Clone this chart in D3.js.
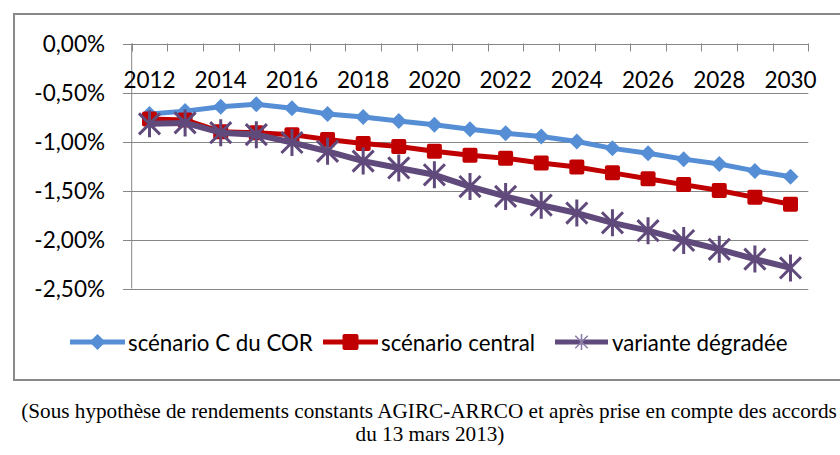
<!DOCTYPE html>
<html><head><meta charset="utf-8">
<script src="https://cdn.jsdelivr.net/npm/d3@7"></script>
<style>body{margin:0;background:#fff}svg{display:block}</style>
</head><body>
<script>
const years = [2012,2013,2014,2015,2016,2017,2018,2019,2020,2021,2022,2023,2024,2025,2026,2027,2028,2029,2030];
const seriesNames = ["scénario C du COR","scénario central","variante dégradée"];
const scenarioCOR = [-0.72,-0.69,-0.645,-0.62,-0.66,-0.72,-0.75,-0.79,-0.83,-0.875,-0.915,-0.95,-1.00,-1.07,-1.12,-1.18,-1.23,-1.30,-1.36];
const scenarioCentral = [-0.77,-0.78,-0.90,-0.91,-0.93,-0.98,-1.02,-1.05,-1.10,-1.14,-1.17,-1.22,-1.26,-1.32,-1.38,-1.44,-1.50,-1.57,-1.64];
const varianteDegradee = [-0.82,-0.81,-0.91,-0.93,-1.01,-1.10,-1.20,-1.27,-1.34,-1.46,-1.56,-1.65,-1.73,-1.83,-1.91,-2.01,-2.10,-2.20,-2.29];
const yTicks = [0,-0.5,-1,-1.5,-2,-2.5];
const xLabels = [2012,2014,2016,2018,2020,2022,2024,2026,2028,2030];
const captionLines = ["(Sous hypothèse de rendements constants AGIRC-ARRCO et après prise en compte des accords","du 13 mars 2013)"];

const W=840,H=455;
const svg=d3.select("body").append("svg").attr("width",W).attr("height",H);
const font="Lato, 'Open Sans', sans-serif";

// chart frame
svg.append("rect").attr("x",14).attr("y",14).attr("width",840).attr("height",366)
  .attr("fill","#fff").attr("stroke","#898989").attr("stroke-width",2);

const x=d3.scaleBand().domain(years).range([131.7,808.3]).padding(0);
const y=d3.scaleLinear().domain([-2.5,0]).range([288.5,43.5]);
const fmt=v=>(v===0?"0,00%":d3.format(".2f")(v).replace("−","-").replace(".",",")+"%");

// gridlines + y labels
const g=svg.append("g");
yTicks.forEach(t=>{
  g.append("line").attr("x1",123).attr("x2",808.3).attr("y1",Math.round(y(t))+0.5).attr("y2",Math.round(y(t))+0.5)
   .attr("stroke","#868686").attr("stroke-width",1);
  g.append("text").attr("x",105).attr("y",y(t)).attr("text-anchor","end").attr("dominant-baseline","central")
   .attr("font-family",font).attr("font-size",22.5).attr("fill","#000").text(fmt(t));
});
// y axis line
g.append("line").attr("x1",131.7).attr("x2",131.7).attr("y1",y(0)).attr("y2",y(-2.5)).attr("stroke","#868686");
// x category ticks
years.concat([null]).forEach(yr=>{
  const xp = yr===null ? x.range()[1] : x(yr);
  g.append("line").attr("x1",Math.round(xp)+0.5).attr("x2",Math.round(xp)+0.5).attr("y1",y(0)).attr("y2",y(0)+8)
   .attr("stroke","#868686");
});
xLabels.forEach(yr=>{
  g.append("text").attr("x",x(yr)+x.bandwidth()/2).attr("y",79).attr("text-anchor","middle").attr("dominant-baseline","central")
   .attr("font-family",font).attr("font-size",22.5).attr("fill","#000").text(yr);
});

const line=d3.line().x((d,i)=>x(years[i])+x.bandwidth()/2).y(d=>y(d));
const cx=i=>x(years[i])+x.bandwidth()/2;

function diamond(sel,px,py,s,col){
  sel.append("path").attr("d",`M${px},${py-s}L${px+s},${py}L${px},${py+s}L${px-s},${py}Z`).attr("fill",col);
}
function square(sel,px,py,s,col){
  sel.append("rect").attr("x",px-s).attr("y",py-s).attr("width",2*s).attr("height",2*s).attr("rx",2).attr("fill",col);
}
function star(sel,px,py,s,col,w){
  const d=s*0.78;
  sel.append("path").attr("d",`M${px},${py-s}L${px},${py+s}M${px-d},${py-d}L${px+d},${py+d}M${px-d},${py+d}L${px+d},${py-d}`)
   .attr("stroke",col).attr("stroke-width",w).attr("fill","none");
}

const blue="#558ED5", red="#C00000", purple="#604A7B";
svg.append("path").datum(scenarioCOR).attr("d",line).attr("fill","none").attr("stroke",blue).attr("stroke-width",5).attr("stroke-linejoin","round");
scenarioCOR.forEach((v,i)=>diamond(svg,cx(i),y(v),8,blue));
svg.append("path").datum(scenarioCentral).attr("d",line).attr("fill","none").attr("stroke",red).attr("stroke-width",5).attr("stroke-linejoin","round");
scenarioCentral.forEach((v,i)=>square(svg,cx(i),y(v),7.5,red));
svg.append("path").datum(varianteDegradee).attr("d",line).attr("fill","none").attr("stroke",purple).attr("stroke-width",6).attr("stroke-linejoin","round");
varianteDegradee.forEach((v,i)=>star(svg,cx(i),y(v),13.5,purple,3));

// legend
const ly=342, lfs=22.3;
const leg=svg.append("g");
leg.append("line").attr("x1",70).attr("x2",125).attr("y1",ly).attr("y2",ly).attr("stroke",blue).attr("stroke-width",5);
diamond(leg,97.5,ly,8,blue);
leg.append("text").attr("x",128).attr("y",ly).attr("dominant-baseline","central").attr("font-family",font).attr("font-size",lfs).text(seriesNames[0]);
leg.append("line").attr("x1",323).attr("x2",378).attr("y1",ly).attr("y2",ly).attr("stroke",red).attr("stroke-width",5);
square(leg,350.5,ly,8,red);
leg.append("text").attr("x",381).attr("y",ly).attr("dominant-baseline","central").attr("font-family",font).attr("font-size",lfs).text(seriesNames[1]);
leg.append("line").attr("x1",555).attr("x2",608).attr("y1",ly).attr("y2",ly).attr("stroke",purple).attr("stroke-width",5);
star(leg,581.5,ly,8,"#8C7BA8",1.5);
leg.append("text").attr("x",612).attr("y",ly).attr("dominant-baseline","central").attr("font-family",font).attr("font-size",lfs).text(seriesNames[2]);

// caption
svg.append("text").attr("x",429).attr("y",418).attr("text-anchor","middle").attr("font-family","'Liberation Serif', serif").attr("font-size",21.2).text(captionLines[0]);
svg.append("text").attr("x",430).attr("y",441).attr("text-anchor","middle").attr("font-family","'Liberation Serif', serif").attr("font-size",21.2).text(captionLines[1]);
</script>
</body></html>
